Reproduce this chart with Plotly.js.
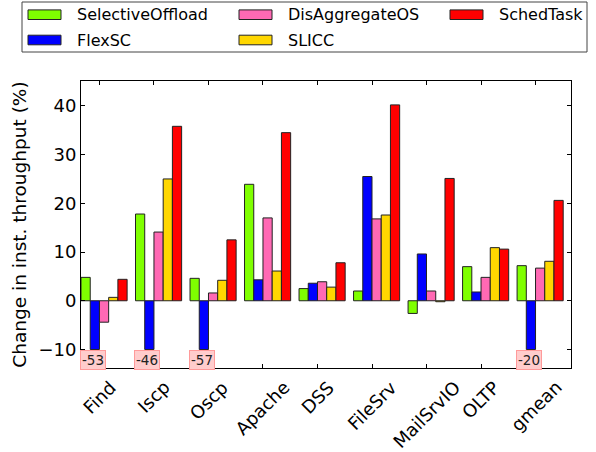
<!DOCTYPE html>
<html>
<head>
<meta charset="utf-8">
<script src="https://cdn.plot.ly/plotly-3.0.1.min.js"></script>
<style>html,body{margin:0;padding:0;background:#fff;}#chart{width:596px;height:452px;}</style>
</head>
<body>
<div id="chart"></div>
<script>
const categories = ["Find", "Iscp", "Oscp", "Apache", "DSS", "FileSrv", "MailSrvIO", "OLTP", "gmean"];
const seriesNames = ["SelectiveOffload", "FlexSC", "DisAggregateOS", "SLICC", "SchedTask"];
const selectiveOffload = [4.8, 17.8, 4.6, 23.9, 2.5, 2.0, -2.6, 7.0, 7.2];
const flexSC = [-53, -46, -57, 4.3, 3.6, 25.5, 9.6, 1.8, -20];
const disAggregateOS = [-4.4, 14.1, 1.6, 17.0, 3.9, 16.8, 2.0, 4.8, 6.7];
const slicc = [0.7, 25.0, 4.2, 6.1, 2.8, 17.6, -0.2, 10.9, 8.1];
const schedTask = [4.4, 35.8, 12.5, 34.5, 7.8, 40.2, 25.1, 10.6, 20.6];
const colors = ["#7fff00", "#0000ff", "#ff69b4", "#ffd700", "#ff0000"];
const clipAt = -10;

const allSeries = [selectiveOffload, flexSC, disAggregateOS, slicc, schedTask];
const xs = categories.map((c, i) => i);
const nS = allSeries.length;
const bargap = 0.154;
const barW = (1 - bargap) / nS;
const tickPos = xs.map(i => i - barW / 2);

const traces = allSeries.map((vals, s) => ({
  type: "bar",
  name: seriesNames[s],
  x: xs,
  y: vals.map(v => Math.max(v, clipAt)),
  marker: {color: colors[s], line: {color: "#222", width: 1}},
  showlegend: false,
  hoverinfo: "skip"
}));

const annotations = [];
allSeries.forEach((vals, s) => {
  vals.forEach((v, i) => {
    if (v < clipAt) {
      const xc = i - (1 - bargap) / 2 + barW * (s + 0.5);
      annotations.push({
        x: xc, y: -12.1, xref: "x", yref: "y",
        text: String(v), showarrow: false, xshift: -2,
        font: {family: "DejaVu Sans", size: 13.5, color: "#222"},
        bgcolor: "#ffcccc", bordercolor: "#ff9a9a", borderwidth: 1, borderpad: 1
      });
    }
  });
});

// rotated category labels, bounding box centred on the tick (like matplotlib)
categories.forEach((c, i) => {
  annotations.push({
    x: tickPos[i], xref: "x", y: 0, yref: "paper", yshift: -6,
    xanchor: "center", yanchor: "top", textangle: -45, showarrow: false,
    text: c, font: {family: "DejaVu Sans", size: 18, color: "#000"}
  });
});

// custom legend (3 columns, column-major)
const shapes = [];
const toPX = x => (x - 81) / 490;
const toPY = y => (368 - y) / 287;
shapes.push({type: "rect", xref: "paper", yref: "paper",
  x0: toPX(22), x1: toPX(587), y0: toPY(52), y1: toPY(2),
  line: {color: "#444", width: 1}, fillcolor: "rgba(0,0,0,0)"});
const colX = [28, 239, 450];
const rowY = [14.7, 40];
seriesNames.forEach((name, k) => {
  const col = Math.floor(k / 2), row = k % 2;
  const px = colX[col], py = rowY[row];
  shapes.push({type: "rect", xref: "paper", yref: "paper",
    x0: toPX(px), x1: toPX(px + 33), y0: toPY(py + 4.8), y1: toPY(py - 4.8),
    fillcolor: colors[k], line: {color: "#222", width: 1}});
  annotations.push({xref: "paper", yref: "paper", x: toPX(px + 47), y: toPY(py),
    xanchor: "left", yanchor: "middle", showarrow: false, text: name,
    font: {family: "DejaVu Sans", size: 16, color: "#000"}});
});

const yticks = [-10, 0, 10, 20, 30, 40];
const layout = {
  width: 596, height: 452,
  margin: {l: 81, r: 25, t: 81, b: 84},
  paper_bgcolor: "#fff", plot_bgcolor: "#fff",
  font: {family: "DejaVu Sans", size: 18, color: "#000"},
  barmode: "group", bargap: bargap, bargroupgap: 0,
  xaxis: {
    range: [-0.423, 8.566], tickvals: tickPos, ticktext: categories.map(() => ""),
    ticks: "inside", ticklen: 4, tickcolor: "#000",
    showline: true, linecolor: "#000", linewidth: 1, mirror: "ticks",
    showgrid: false, zeroline: false
  },
  yaxis: {
    range: [-13.8, 45.1], tickvals: yticks, ticks: "inside", ticklen: 4, tickcolor: "#000",
    showline: true, linecolor: "#000", linewidth: 1, mirror: "ticks",
    showgrid: false, zeroline: false, tickfont: {size: 18},
    title: {text: "Change in inst. throughput (%)", font: {size: 18.5}, standoff: 6}
  },
  shapes: shapes,
  annotations: annotations
};

Plotly.newPlot("chart", traces, layout, {staticPlot: true, displayModeBar: false});
</script>
</body>
</html>
